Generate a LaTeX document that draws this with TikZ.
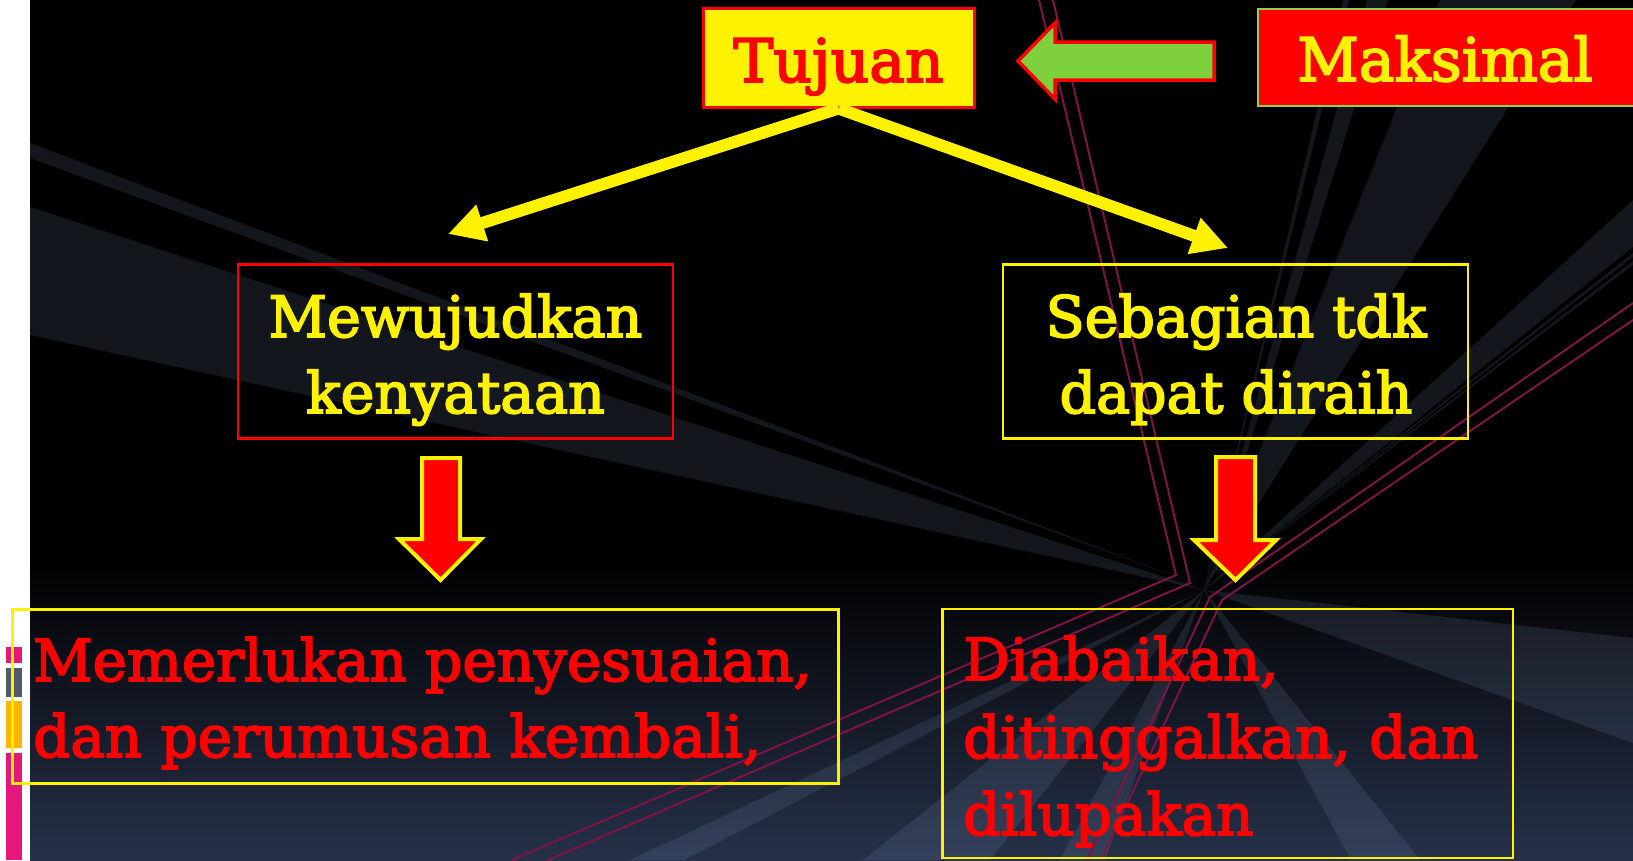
\documentclass[tikz,border=0pt]{standalone}
\usepackage{fontspec}
\setmainfont[FakeBold=3]{DejaVu Serif}
\usetikzlibrary{arrows.meta}
\definecolor{bgbot}{RGB}{38,49,73}
\definecolor{beamc}{RGB}{150,175,220}
\definecolor{crim}{RGB}{125,20,70}
\definecolor{grn}{RGB}{126,208,60}
\definecolor{lgrn}{RGB}{146,208,80}
\definecolor{pinkbar}{RGB}{230,23,122}
\definecolor{graybar}{RGB}{80,90,106}
\definecolor{orbar}{RGB}{255,180,0}
\begin{document}
\begin{tikzpicture}[x=1pt,y=-1pt,
  beam/.style={fill=beamc,fill opacity=0.13},
  crimline/.style={draw=crim,line width=2pt},
  boxy/.style={draw=yellow,line width=2.5pt,inner sep=0pt},
  boxr/.style={draw=red,line width=2.5pt,inner sep=0pt},
  bigtxt/.style={inner sep=0pt,font=\fontsize{60}{60}\selectfont},
  midtxt/.style={inner sep=0pt,font=\fontsize{57}{57}\selectfont,text=yellow,anchor=base},
  bottxt/.style={inner sep=0pt,font=\fontsize{58}{58}\selectfont,text=red,anchor=base west},
  yarrow/.style={draw=yellow,line width=12pt,-{Triangle[length=36pt,width=36pt]}},
  redarrow/.style={fill=red,draw=yellow,line width=4pt,line join=miter}
]
\useasboundingbox (0,0) rectangle (1633,860);
% background
\fill[black] (30,0) rectangle (1633,860);
\shade[top color=black,bottom color=bgbot] (30,560) rectangle (1633,860);
\coordinate (C) at (1204,590);
\begin{scope}
\clip (30,0) rectangle (1633,860);
\fill[beam] (C) -- (30,207) -- (30,335) -- cycle;
\fill[beam] (1190,582) -- (30,143) -- (30,158) -- cycle;
\fill[beam] (C) -- (1343,0) -- (1349,0) -- cycle;
\fill[beam] (C) -- (1367,0) -- (1388,0) -- cycle;
\fill[beam] (C) -- (1440,0) -- (1576,0) -- cycle;
\fill[beam] (C) -- (1633,200) -- (1633,247) -- cycle;
\fill[beam] (C) -- (1633,253) -- (1633,257) -- cycle;
\fill[beam] (C) -- (1633,261) -- (1633,265) -- cycle;
\fill[beam] (C) -- (1633,638) -- (1633,743) -- cycle;
\fill[beam] (C) -- (1060,860) -- (1105,860) -- cycle;
\fill[beam] (C) -- (1351,860) -- (1420,860) -- cycle;
\fill[beam] (C) -- (630,860) -- (684,860) -- cycle;
\fill[beam] (C) -- (863,860) -- (990,860) -- cycle;
\draw[crimline] (1039,0) -- (1176,575) -- (512,860);
\draw[crimline] (1053,0) -- (1190,583) -- (548,860);
\draw[crimline] (1633,303) -- (1210,597) -- (1087,860);
\draw[crimline] (1633,320) -- (1222,600) -- (1101,860);
\end{scope}
% left strip
\fill[white] (0,0) rectangle (30,860);
\fill[pinkbar] (6,647) rectangle (22,663);
\fill[graybar] (6,668) rectangle (22,697);
\fill[orbar] (6,701) rectangle (22,748);
\fill[pinkbar] (6,753) rectangle (22,860);
% top row
\node[draw=red,fill=yellow,line width=3pt,inner sep=0pt,minimum width=271pt,minimum height=99pt] (tujuan) at (838.5,57.5) {};
\node[bigtxt,text=red,anchor=base] (tujuantxt) at (838.5,82) {Tujuan};
\node[draw=lgrn,fill=red,line width=2pt,inner sep=0pt,minimum width=382pt,minimum height=97pt] (maks) at (1449,57.5) {};
\node[bigtxt,text=yellow,anchor=base] (makstxt) at (1445,81) {Maksimal};
\draw[fill=grn,draw=red,line width=3.5pt,line join=miter] (1018,61) -- (1055,23) -- (1055,42) -- (1214,42) -- (1214,80) -- (1055,80) -- (1055,99) -- cycle;
% middle row
\node[boxr,minimum width=435pt,minimum height=174pt] (mew) at (455.5,351.5) {};
\node[midtxt] (mew1) at (455.5,337) {Mewujudkan};
\node[midtxt] (mew2) at (455.5,413) {kenyataan};
\node[boxy,minimum width=465pt,minimum height=174pt] (seb) at (1235.5,351.5) {};
\node[midtxt] (seb1) at (1236,337) {Sebagian tdk};
\node[midtxt] (seb2) at (1236,413) {dapat diraih};
\coordinate (ltip) at (448,234);
\coordinate (rtip) at (1228,248);
\draw[yarrow] (tujuan.south) -- (ltip);
\draw[yarrow] (tujuan.south) -- (rtip);
% red arrows
\draw[redarrow] (422,458) -- (460,458) -- (460,539) -- (481,539) -- (440.5,580) -- (399,539) -- (422,539) -- cycle;
\draw[redarrow] (1216,457) -- (1255,457) -- (1255,540) -- (1276,540) -- (1235.5,580) -- (1194,540) -- (1216,540) -- cycle;
% bottom row
\node[boxy,line width=3pt,minimum width=826pt,minimum height=174pt] (mem) at (425,696) {};
\node[bottxt] (mem1) at (33,681) {Memerlukan penyesuaian,};
\node[bottxt] (mem2) at (33,757) {dan perumusan kembali,};
\node[boxy,minimum width=570.5pt,minimum height=249pt] (dia) at (1227.75,733.5) {};
\node[bottxt] (dia1) at (963,680) {Diabaikan,};
\node[bottxt] (dia2) at (963,758) {ditinggalkan, dan};
\node[bottxt] (dia3) at (963,835) {dilupakan};
\end{tikzpicture}
\end{document}
